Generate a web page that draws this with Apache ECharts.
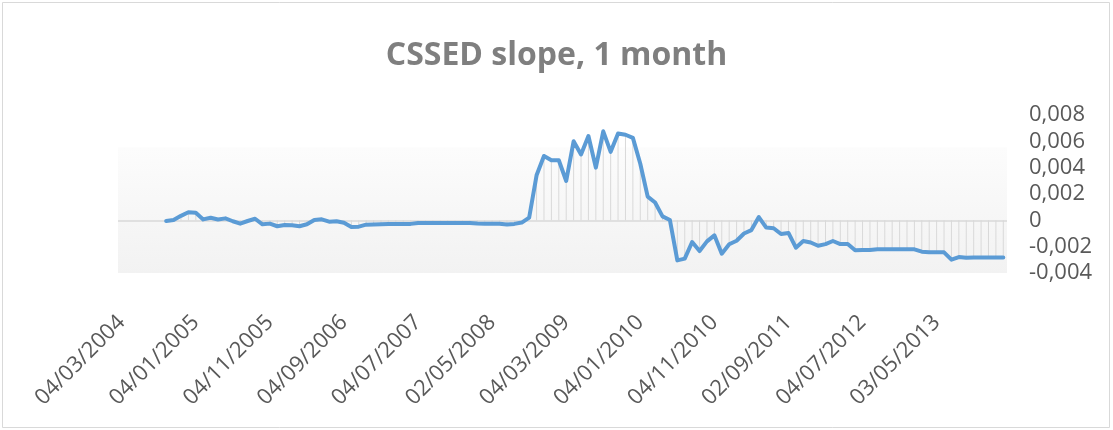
<!DOCTYPE html>
<html>
<head>
<meta charset="utf-8">
<script src="https://cdn.jsdelivr.net/npm/echarts@6/dist/echarts.min.js"></script>
<style>
  html, body { margin: 0; padding: 0; background: #fff; }
  #chart { width: 1113px; height: 430px; }
</style>
</head>
<body>
<div id="chart"></div>
<script>
  // monthly observations, 03/2004 .. 02/2014
  var categories = [
    '04/03/2004', '04/04/2004', '04/05/2004', '04/06/2004', '04/07/2004', '04/08/2004', '04/09/2004', '04/10/2004', '04/11/2004', '04/12/2004',
    '04/01/2005', '04/02/2005', '04/03/2005', '04/04/2005', '04/05/2005', '04/06/2005', '04/07/2005', '04/08/2005', '04/09/2005', '04/10/2005',
    '04/11/2005', '04/12/2005', '04/01/2006', '04/02/2006', '04/03/2006', '04/04/2006', '04/05/2006', '04/06/2006', '04/07/2006', '04/08/2006',
    '04/09/2006', '04/10/2006', '04/11/2006', '04/12/2006', '04/01/2007', '04/02/2007', '04/03/2007', '04/04/2007', '04/05/2007', '04/06/2007',
    '04/07/2007', '04/08/2007', '04/09/2007', '04/10/2007', '04/11/2007', '04/12/2007', '04/01/2008', '04/02/2008', '04/03/2008', '04/04/2008',
    '02/05/2008', '04/06/2008', '04/07/2008', '04/08/2008', '04/09/2008', '04/10/2008', '04/11/2008', '04/12/2008', '04/01/2009', '04/02/2009',
    '04/03/2009', '04/04/2009', '04/05/2009', '04/06/2009', '04/07/2009', '04/08/2009', '04/09/2009', '04/10/2009', '04/11/2009', '04/12/2009',
    '04/01/2010', '04/02/2010', '04/03/2010', '04/04/2010', '04/05/2010', '04/06/2010', '04/07/2010', '04/08/2010', '04/09/2010', '04/10/2010',
    '04/11/2010', '04/12/2010', '04/01/2011', '04/02/2011', '04/03/2011', '04/04/2011', '04/05/2011', '04/06/2011', '04/07/2011', '04/08/2011',
    '02/09/2011', '04/10/2011', '04/11/2011', '04/12/2011', '04/01/2012', '04/02/2012', '04/03/2012', '04/04/2012', '04/05/2012', '04/06/2012',
    '04/07/2012', '04/08/2012', '04/09/2012', '04/10/2012', '04/11/2012', '04/12/2012', '04/01/2013', '04/02/2013', '04/03/2013', '04/04/2013',
    '03/05/2013', '04/06/2013', '04/07/2013', '04/08/2013', '04/09/2013', '04/10/2013', '04/11/2013', '04/12/2013', '04/01/2014', '04/02/2014'
  ]

  var slope = [
    null, null, null, null, null, null,
    -0.00005, 0.00002, 0.00034, 0.00061, 0.00057, 0.00007, 0.0002, 0.00006, 0.00015, -0.00007,
    -0.00025, -0.00005, 0.00012, -0.0003, -0.00025, -0.00045, -0.00035, -0.00038, -0.00045, -0.0003,
    0.00003, 0.00008, -0.0001, -0.00007, -0.00018, -0.0005, -0.00048, -0.00033, -0.00031, -0.0003,
    -0.00028, -0.00028, -0.00027, -0.00027, -0.0002, -0.0002, -0.0002, -0.0002, -0.0002, -0.0002,
    -0.0002, -0.0002, -0.00024, -0.00026, -0.00026, -0.00026, -0.00032, -0.00027, -0.00017, 0.0002,
    0.00342, 0.00489, 0.00456, 0.00456, 0.00299, 0.006, 0.005, 0.0064, 0.004, 0.00676,
    0.0052, 0.0066, 0.0065, 0.00626, 0.0043, 0.0018, 0.00135, 0.0003, 0.00002, -0.00304,
    -0.00291, -0.00165, -0.00233, -0.0016, -0.00114, -0.00253, -0.00182, -0.00155, -0.001, -0.00074,
    0.00025, -0.00055, -0.0006, -0.00104, -0.00096, -0.00208, -0.00157, -0.00168, -0.00193, -0.00181,
    -0.00157, -0.0018, -0.0018, -0.00228, -0.00226, -0.00226, -0.0022, -0.0022, -0.0022, -0.0022,
    -0.0022, -0.0022, -0.00238, -0.00243, -0.00243, -0.00243, -0.00299, -0.00279, -0.00285, -0.00283,
    -0.00283, -0.00283, -0.00283, -0.00283
  ]

  var yMin = -0.004, yMax = 0.008, yStep = 0.002

  var font = '"Open Sans", "Noto Sans", sans-serif'

  var chart = echarts.init(document.getElementById('chart'), null, {renderer: 'canvas'})
  chart.setOption({
    animation: false,
    backgroundColor: '#fff',
    title: {
      text: 'CSSED slope, 1 month',
      left: 'center',
      top: 35,
      textStyle: {
        fontFamily: font,
        fontSize: 32,
        fontWeight: 'bold',
        color: '#7f7f7f'
      }
    },
    graphic: [{
      type: 'rect',
      shape: {x: 2.5, y: 2.5, width: 1107, height: 425},
      style: {fill: 'none', stroke: '#d9d9d9', lineWidth: 1},
      silent: true
    }],
    grid: {
      left: 118,
      right: 106,
      top: 115,
      bottom: 157,
      show: true,
      borderWidth: 0,
      backgroundColor: new echarts.graphic.LinearGradient(0, 0, 0, 1, [
        {offset: 0, color: '#ffffff'},
        {offset: 0.2, color: '#ffffff'},
        {offset: 0.21, color: '#fcfcfc'},
        {offset: 1, color: '#f2f2f2'}
      ])
    },
    xAxis: {
      type: 'category',
      data: categories,
      boundaryGap: true,
      axisLine: {show: false},
      axisTick: {show: false},
      splitLine: {show: false},
      axisLabel: {
        interval: 9,
        rotate: 45,
        margin: 46,
        fontFamily: font,
        fontSize: 22,
        color: '#595959'
      }
    },
    yAxis: {
      type: 'value',
      position: 'right',
      min: yMin,
      max: yMax,
      interval: yStep,
      axisLine: {show: false},
      axisTick: {show: false},
      splitLine: {show: false},
      axisLabel: {
        margin: 22,
        align: 'left',
        fontFamily: font,
        fontSize: 22,
        color: '#595959',
        formatter: function (v) {
          if (Math.abs(v) < 1e-9) return '0'
          return v.toFixed(3).replace('.', ',')
        }
      }
    },
    series: [{
      // drop lines
      type: 'bar',
      data: slope,
      barWidth: 1,
      itemStyle: {color: '#d9d9d9'},
      silent: true,
      markLine: {
        silent: true,
        symbol: 'none',
        label: {show: false},
        lineStyle: {color: '#d9d9d9', width: 1.5, type: 'solid'},
        data: [{yAxis: 0}]
      }
    }, {
      type: 'line',
      data: slope,
      symbol: 'none',
      lineStyle: {color: '#5b9bd5', width: 4, join: 'round', cap: 'round'},
      z: 5
    }]
  })
</script>
</body>
</html>
